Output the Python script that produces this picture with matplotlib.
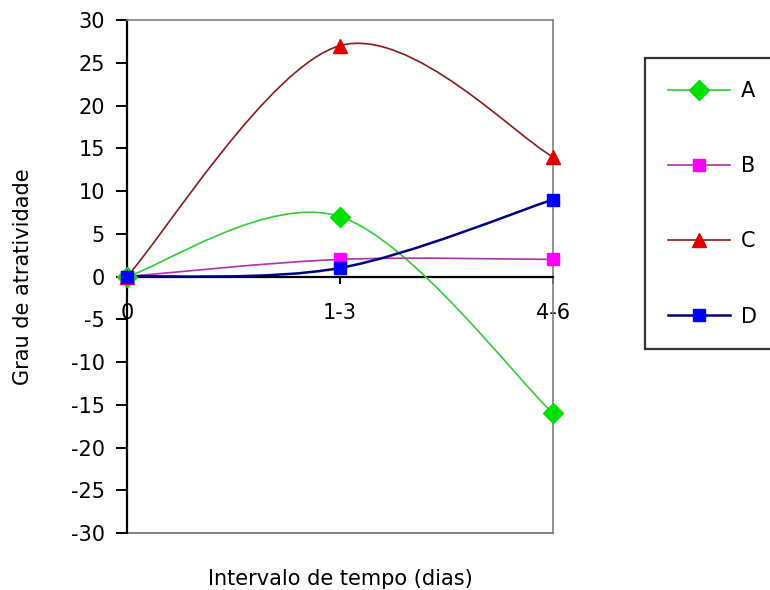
import numpy as np
import matplotlib
matplotlib.use('Agg')
import matplotlib.pyplot as plt
from matplotlib.path import Path
from matplotlib.patches import PathPatch
from matplotlib.lines import Line2D

plt.rcParams['font.family'] = ['DejaVu Sans']
plt.rcParams['axes.unicode_minus'] = False

# dados
categorias = ['0', '1-3', '4-6']
series = ['A', 'B', 'C', 'D']
valores_a = [0, 7, -16]
valores_b = [0, 2, 2]
valores_c = [0, 27, 14]
valores_d = [0, 1, 9]
valores = [valores_a, valores_b, valores_c, valores_d]

cor_linha = ['#33cc33', '#b030b0', '#8b1a1a', '#000080']
cor_marcador = ['#00e000', '#ff00ff', '#e00000', '#0000ff']
marcadores = ['D', 's', '^', 's']
tam_marcador = [10, 9, 10, 9]
espessura = [1.2, 1.2, 1.2, 1.8]


def curva_suave(x, y):
    # curva de Bezier no estilo "linha suavizada" do Excel
    pts = np.column_stack([x, y]).astype(float)
    n = len(pts)
    verts = [pts[0]]
    codes = [Path.MOVETO]
    for i in range(n - 1):
        p_ant = pts[max(i - 1, 0)]
        p0 = pts[i]
        p1 = pts[i + 1]
        p_prox = pts[min(i + 2, n - 1)]
        c1 = p0 + (p1 - p_ant) / 6.0
        c2 = p1 - (p_prox - p0) / 6.0
        verts += [c1, c2, p1]
        codes += [Path.CURVE4] * 3
    return Path(verts, codes)


fig = plt.figure(figsize=(7.7, 5.9), dpi=100)
ax = fig.add_axes([0.1649, 0.0966, 0.5533, 0.8695])

xs = np.arange(len(categorias))
for vals, cl, cm, mk, ms, lw in zip(valores, cor_linha, cor_marcador,
                                    marcadores, tam_marcador, espessura):
    caminho = curva_suave(xs, vals)
    ax.add_patch(PathPatch(caminho, facecolor='none', edgecolor=cl,
                           lw=lw, transform=ax.transData, zorder=3))
    ax.plot(xs, vals, linestyle='none', marker=mk, markersize=ms,
            markerfacecolor=cm, markeredgecolor=cm, clip_on=False, zorder=4)

ax.set_xlim(0, len(categorias) - 1)
ax.set_ylim(-30, 30)
ax.set_yticks(np.arange(-30, 31, 5))
ax.set_xticks(xs)
ax.set_xticklabels(categorias)

# eixos no estilo Excel
ax.spines['bottom'].set_position(('data', 0))
ax.spines['bottom'].set_color('black')
ax.spines['bottom'].set_linewidth(1.6)
ax.spines['left'].set_color('black')
ax.spines['left'].set_linewidth(1.6)
for lado in ['top', 'right']:
    ax.spines[lado].set_color('#808080')
    ax.spines[lado].set_linewidth(1.2)
ax.axhline(-30, color='#808080', lw=1.4, clip_on=False, zorder=1)

ax.tick_params(axis='y', direction='out', length=8, width=1.4, pad=8,
               labelsize=15)
ax.tick_params(axis='x', direction='out', length=5, width=1.4, pad=14,
               labelsize=15)

ax.set_xlabel('Intervalo de tempo (dias)', fontsize=15)
ax.xaxis.set_label_coords(0.5, -0.07)
ax.set_ylabel('Grau de atratividade', fontsize=15)
ax.yaxis.set_label_coords(-0.22, 0.5)

# legenda
alcas = [Line2D([], [], color=cl, lw=lw, marker=mk, markersize=ms,
                markerfacecolor=cm, markeredgecolor=cm)
         for cl, cm, mk, ms, lw in zip(cor_linha, cor_marcador, marcadores,
                                       tam_marcador, espessura)]
leg = fig.legend(alcas, series, loc='upper left',
                 bbox_to_anchor=(645 / 770, 1 - 58 / 590),
                 borderaxespad=0, fontsize=15, handlelength=3.0,
                 handletextpad=0.5, labelspacing=2.65, borderpad=1.1,
                 fancybox=False, frameon=True)
leg.get_frame().set_edgecolor('black')
leg.get_frame().set_linewidth(1.6)

fig.savefig('out.png', dpi=100)
